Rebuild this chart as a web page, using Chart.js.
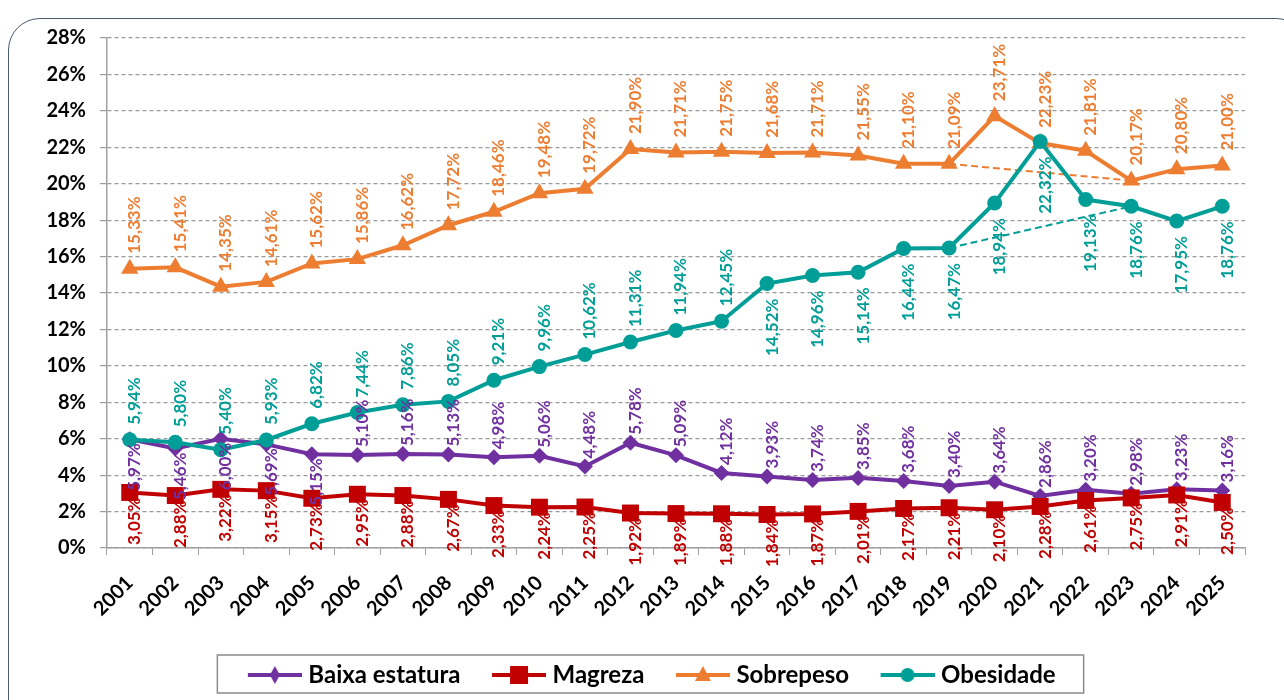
<!DOCTYPE html>
<html>
<head>
<meta charset="utf-8">
<script src="https://cdn.jsdelivr.net/npm/chart.js@4.4.1/dist/chart.umd.min.js"></script>
<style>
html, body { margin: 0; padding: 0; background: #fff; overflow: hidden; }
#moldura { position: absolute; left: 8px; top: 18px; width: 1300px; height: 720px;
  border: 1.5px solid #4a5a70; border-radius: 32px; box-sizing: border-box; }
#grafico { position: absolute; left: 0; top: 0; }
</style>
</head>
<body>
<div id="moldura"></div>
<canvas id="grafico" width="1284" height="700"></canvas>
<script>
// anos e séries (%)
const anos = ['2001','2002','2003','2004','2005','2006','2007','2008','2009','2010','2011','2012','2013',
              '2014','2015','2016','2017','2018','2019','2020','2021','2022','2023','2024','2025'];

const baixaEstatura = [5.97, 5.46, 6.00, 5.69, 5.15, 5.10, 5.16, 5.13, 4.98, 5.06, 4.48, 5.78, 5.09,
                       4.12, 3.93, 3.74, 3.85, 3.68, 3.40, 3.64, 2.86, 3.20, 2.98, 3.23, 3.16];
const magreza = [3.05, 2.88, 3.22, 3.15, 2.73, 2.95, 2.88, 2.67, 2.33, 2.24, 2.25, 1.92, 1.89,
                 1.88, 1.84, 1.87, 2.01, 2.17, 2.21, 2.10, 2.28, 2.61, 2.75, 2.91, 2.50];
const sobrepeso = [15.33, 15.41, 14.35, 14.61, 15.62, 15.86, 16.62, 17.72, 18.46, 19.48, 19.72, 21.90, 21.71,
                   21.75, 21.68, 21.71, 21.55, 21.10, 21.09, 23.71, 22.23, 21.81, 20.17, 20.80, 21.00];
const obesidade = [5.94, 5.80, 5.40, 5.93, 6.82, 7.44, 7.86, 8.05, 9.21, 9.96, 10.62, 11.31, 11.94,
                   12.45, 14.52, 14.96, 15.14, 16.44, 16.47, 18.94, 22.32, 19.13, 18.76, 17.95, 18.76];

// linhas tracejadas 2019 -> 2023
const sobrepesoTendencia = [null, null, null, null, null, null, null, null, null, null, null, null, null,
                            null, null, null, null, null, 21.09, null, null, null, 20.17, null, null];
const obesidadeTendencia = [null, null, null, null, null, null, null, null, null, null, null, null, null,
                            null, null, null, null, null, 16.47, null, null, null, 18.76, null, null];

const eixoY = [0, 2, 4, 6, 8, 10, 12, 14, 16, 18, 20, 22, 24, 26, 28];

const ROXO = '#7030A0', VERMELHO = '#C00000', LARANJA = '#ED7D31', VERDE = '#009E97';
const FONTE = 'Lato, "Liberation Sans", sans-serif';

// posição dos rótulos: true = acima do ponto
const posRotulo = {
    'Baixa estatura': { acima: j => j > 4, dist: 8, distBaixo: 4 },
    'Magreza': { acima: () => false, dist: 5, distBaixo: 5 },
    'Sobrepeso': { acima: () => true, dist: 15, distBaixo: 15 },
    'Obesidade': { acima: j => j < 14, dist: 15, distBaixo: 15 }
};

const rotulos = {
    id: 'rotulos',
    afterDatasetsDraw(chart) {
        const ctx = chart.ctx;
        chart.data.datasets.forEach((ds, i) => {
            const cfg = posRotulo[ds.label];
            if (!cfg) return;
            chart.getDatasetMeta(i).data.forEach((pt, j) => {
                const v = ds.data[j];
                if (v == null) return;
                const acima = cfg.acima(j);
                ctx.save();
                ctx.translate(pt.x + 5, pt.y + (acima ? -cfg.dist : cfg.distBaixo));
                ctx.rotate(-Math.PI / 2);
                ctx.font = 'bold 17px ' + FONTE;
                ctx.fillStyle = ds.borderColor;
                ctx.textAlign = acima ? 'left' : 'right';
                ctx.textBaseline = 'middle';
                ctx.fillText(v.toFixed(2).replace('.', ',') + '%', 0, 0);
                ctx.restore();
            });
        });
    }
};

// moldura da legenda
const caixaLegenda = {
    id: 'caixaLegenda',
    afterDraw(chart) {
        const lg = chart.legend;
        if (!lg || !lg.legendHitBoxes.length) return;
        const hb = lg.legendHitBoxes;
        const esq = Math.min(...hb.map(h => h.left)) - 9;
        const dir = Math.max(...hb.map(h => h.left + h.width)) + 28;
        const ctx = chart.ctx;
        ctx.save();
        ctx.strokeStyle = '#8c8c8c';
        ctx.lineWidth = 1.5;
        ctx.strokeRect(esq, lg.top + 2, dir - esq, lg.height - 6);
        ctx.restore();
    }
};

function iconeLegenda(cor, forma) {
    const c = document.createElement('canvas');
    c.width = 81; c.height = 24;
    const g = c.getContext('2d');
    const cx = 54, cy = 12;
    g.strokeStyle = cor; g.fillStyle = cor; g.lineWidth = 4;
    g.beginPath(); g.moveTo(27, cy); g.lineTo(81, cy); g.stroke();
    g.beginPath();
    if (forma === 'losango') {
        g.moveTo(cx, cy - 9); g.lineTo(cx + 5, cy); g.lineTo(cx, cy + 9); g.lineTo(cx - 5, cy);
    } else if (forma === 'quadrado') {
        g.rect(cx - 9, cy - 9, 18, 18);
    } else if (forma === 'triangulo') {
        g.moveTo(cx, cy - 9); g.lineTo(cx + 8, cy + 6); g.lineTo(cx - 8, cy + 6);
    } else {
        g.arc(cx, cy, 7, 0, Math.PI * 2);
    }
    g.closePath(); g.fill();
    return c;
}

const icones = {
    'Baixa estatura': iconeLegenda(ROXO, 'losango'),
    'Magreza': iconeLegenda(VERMELHO, 'quadrado'),
    'Sobrepeso': iconeLegenda(LARANJA, 'triangulo'),
    'Obesidade': iconeLegenda(VERDE, 'circulo')
};

function serie(label, data, cor, estilo, raio, ordem) {
    return {
        label, data, borderColor: cor, backgroundColor: cor,
        borderWidth: 4, pointStyle: estilo, pointRadius: raio, pointHoverRadius: raio,
        pointBorderWidth: 0, tension: 0, order: ordem
    };
}

function tendencia(data, cor) {
    return {
        label: '_tend', data, borderColor: cor, borderWidth: 2, borderDash: [7, 4],
        pointRadius: 0, spanGaps: true, order: 10
    };
}

new Chart(document.getElementById('grafico'), {
    type: 'line',
    data: {
        labels: anos,
        datasets: [
            serie('Baixa estatura', baixaEstatura, ROXO, 'rectRot', 8, 4),
            serie('Magreza', magreza, VERMELHO, 'rect', 12, 3),
            serie('Sobrepeso', sobrepeso, LARANJA, 'triangle', 10, 2),
            serie('Obesidade', obesidade, VERDE, 'circle', 7.5, 1),
            tendencia(sobrepesoTendencia, LARANJA),
            tendencia(obesidadeTendencia, VERDE)
        ]
    },
    options: {
        responsive: false,
        animation: false,
        devicePixelRatio: 1,
        layout: { padding: { left: 37, right: 39, top: 38, bottom: 3 } },
        plugins: {
            tooltip: { enabled: false },
            legend: {
                position: 'bottom',
                labels: {
                    usePointStyle: true,
                    pointStyleWidth: 70,
                    padding: 10,
                    color: '#000',
                    font: { family: FONTE, size: 24, weight: 'bold' },
                    generateLabels: chart => chart.data.datasets
                        .map((ds, i) => ({ ds, i }))
                        .filter(o => icones[o.ds.label])
                        .map(o => ({
                            text: o.ds.label, datasetIndex: o.i, hidden: false,
                            pointStyle: icones[o.ds.label], fontColor: '#000',
                            fillStyle: 'transparent', strokeStyle: 'transparent', lineWidth: 0
                        }))
                }
            }
        },
        scales: {
            x: {
                offset: true,
                grid: { offset: true, drawOnChartArea: false, drawTicks: true, tickLength: 7, color: '#a0a0a0' },
                border: { color: '#a0a0a0', width: 1.5 },
                ticks: {
                    autoSkip: false, maxRotation: 45, minRotation: 45, padding: 16,
                    color: '#000', font: { family: FONTE, size: 20, weight: 'bold' }
                },
                afterFit: s => { s.height = 105; }
            },
            y: {
                min: eixoY[0],
                max: eixoY[eixoY.length - 1],
                afterBuildTicks: s => { s.ticks = eixoY.map(v => ({ value: v })); },
                grid: { color: '#9a9a9a', lineWidth: 1.2, tickLength: 7, tickColor: '#9a9a9a' },
                border: { color: '#a0a0a0', width: 1.5, dash: [4, 3] },
                ticks: {
                    padding: 14, color: '#000',
                    font: { family: FONTE, size: 20, weight: 'bold' },
                    callback: v => v + '%'
                },
                afterFit: s => { s.width = 70; }
            }
        }
    },
    plugins: [rotulos, caixaLegenda]
});
</script>
</body>
</html>
